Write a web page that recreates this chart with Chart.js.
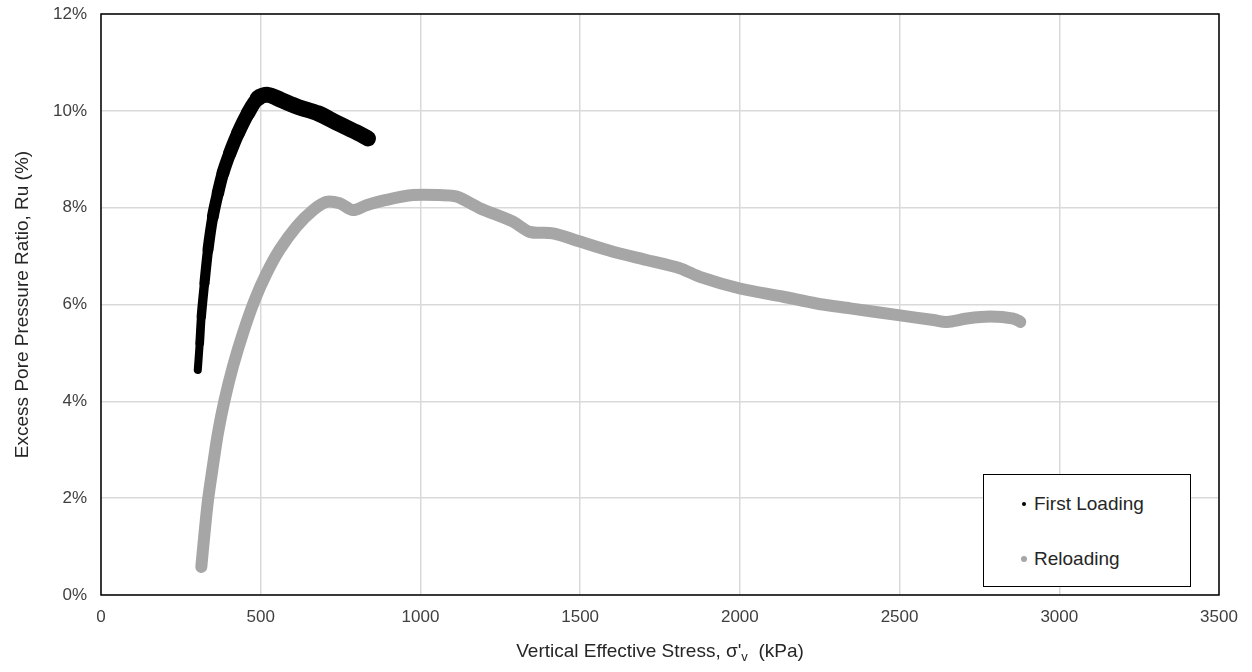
<!DOCTYPE html>
<html>
<head>
<meta charset="utf-8">
<title>Excess Pore Pressure Ratio</title>
<script src="https://cdn.jsdelivr.net/npm/chart.js@4/dist/chart.umd.min.js"></script>
<style>
  html, body { margin: 0; padding: 0; background: #fff; }
  #wrap { position: relative; width: 1252px; height: 672px; font-family: "Liberation Sans", Arial, sans-serif; }
  #chart { position: absolute; left: 0; top: 0; }
  #x-title {
    position: absolute; left: 101px; width: 1118px; top: 640px;
    text-align: center; font-size: 19px; color: #262626; white-space: pre;
  }
  #x-title sub { font-size: 13px; vertical-align: -4px; line-height: 0; }
  #legend {
    position: absolute; left: 983px; top: 474px; width: 206px; height: 111px;
    border: 1.5px solid #000; background: #fff; font-size: 19px; color: #262626;
  }
  .leg-row { position: absolute; left: 0; height: 24px; line-height: 24px; }
  .leg-dot { position: absolute; border-radius: 50%; }
  .leg-text { position: absolute; left: 50px; white-space: nowrap; }
</style>
</head>
<body>
<div id="wrap">
  <canvas id="chart" width="1252" height="672"></canvas>
  <div id="x-title">Vertical Effective Stress, σ'<sub>v</sub>  (kPa)</div>
  <div id="legend">
    <div class="leg-row" style="top:17px">
      <span class="leg-dot" style="left:38px;top:10px;width:4px;height:4px;background:#000"></span>
      <span class="leg-text">First Loading</span>
    </div>
    <div class="leg-row" style="top:72px">
      <span class="leg-dot" style="left:37px;top:9px;width:6px;height:6px;background:#a6a6a6"></span>
      <span class="leg-text">Reloading</span>
    </div>
  </div>
</div>
<script>
// First loading curve (kPa, %)
const firstStress = [303, 309, 314, 324, 335, 350, 366, 382, 403, 429, 460, 491, 523, 565, 617, 679, 742, 805, 836];
const firstRu     = [4.65, 5.20, 5.75, 6.44, 7.13, 7.81, 8.30, 8.72, 9.12, 9.54, 9.95, 10.26, 10.33, 10.22, 10.08, 9.95, 9.74, 9.54, 9.43];

// Reloading curve (kPa, %)
const reloadStress = [314, 324, 335, 350, 366, 387, 413, 444, 481, 518, 559, 612, 664, 706, 747, 789, 831, 893, 977, 1060,
  1113, 1186, 1290, 1342, 1415, 1499, 1603, 1708, 1812, 1875, 2000, 2136, 2240, 2345, 2496, 2606, 2648, 2711, 2784, 2857, 2878];
const reloadRu     = [0.58, 1.27, 1.96, 2.65, 3.34, 4.03, 4.72, 5.40, 6.09, 6.64, 7.13, 7.61, 7.95, 8.12, 8.09, 7.95, 8.05, 8.16, 8.26, 8.26,
  8.23, 7.99, 7.71, 7.50, 7.47, 7.30, 7.09, 6.92, 6.75, 6.57, 6.33, 6.16, 6.02, 5.92, 5.78, 5.68, 5.64, 5.71, 5.75, 5.71, 5.64];

const xTicks = [0, 500, 1000, 1500, 2000, 2500, 3000, 3500];
const yTicks = [0, 2, 4, 6, 8, 10, 12];

const toPoints = (xs, ys) => xs.map((x, i) => ({ x, y: ys[i] }));

// full black frame round the plot area
const frame = {
  id: 'frame',
  afterDraw(chart) {
    const { ctx, chartArea: a } = chart;
    ctx.save();
    ctx.strokeStyle = '#000';
    ctx.lineWidth = 1.5;
    ctx.strokeRect(a.left, a.top, a.right - a.left, a.bottom - a.top);
    ctx.restore();
  },
};

const font = { family: '"Liberation Sans", Arial, sans-serif', size: 17 };

new Chart(document.getElementById('chart'), {
  type: 'scatter',
  data: {
    datasets: [
      {
        label: 'Reloading',
        data: toPoints(reloadStress, reloadRu),
        showLine: true,
        borderColor: '#a6a6a6',
        borderWidth: 12,
        borderCapStyle: 'round',
        borderJoinStyle: 'round',
        pointRadius: 0,
        tension: 0.3,
        order: 2,
      },
      {
        label: 'First Loading',
        data: toPoints(firstStress, firstRu),
        showLine: true,
        borderColor: '#000',
        borderCapStyle: 'round',
        borderJoinStyle: 'round',
        pointRadius: 0,
        tension: 0.3,
        order: 1,
        // band gets wider towards the peak, as in the original scatter
        segment: {
          borderWidth: c => {
            const p = c.p0.parsed;
            if (p.x >= 480) return 16;
            return 8 + (p.y - 4.6) * 1.2;
          },
        },
      },
    ],
  },
  options: {
    responsive: false,
    animation: false,
    events: [],
    layout: { padding: { top: 14, right: 33, left: 0, bottom: 0 } },
    plugins: { legend: { display: false }, tooltip: { enabled: false } },
    scales: {
      x: {
        type: 'linear',
        min: 0,
        max: 3500,
        afterBuildTicks: s => { s.ticks = xTicks.map(v => ({ value: v })); },
        afterFit: s => { s.height = 77; s.paddingLeft = 0; s.paddingRight = 0; },
        ticks: { color: '#404040', font, padding: 12, callback: v => String(v) },
        grid: { color: '#d9d9d9', lineWidth: 1.5, drawTicks: false },
        border: { display: false },
      },
      y: {
        min: 0,
        max: 12,
        afterBuildTicks: s => { s.ticks = yTicks.map(v => ({ value: v })); },
        afterFit: s => { s.width = 101; s.paddingTop = 0; s.paddingBottom = 0; },
        ticks: { color: '#404040', font, padding: 14, callback: v => v + '%' },
        grid: { color: '#d9d9d9', lineWidth: 1.5, drawTicks: false },
        border: { display: false },
        title: {
          display: true,
          text: 'Excess Pore Pressure Ratio, Ru (%)',
          color: '#262626',
          font: { family: font.family, size: 19 },
          padding: { top: 11, bottom: 0 },
        },
      },
    },
  },
  plugins: [frame],
});
</script>
</body>
</html>
